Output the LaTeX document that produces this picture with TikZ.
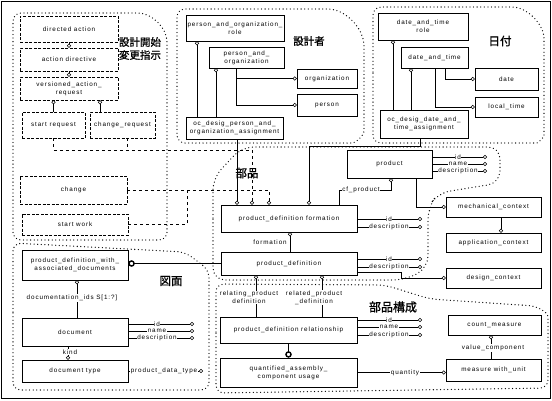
\documentclass[tikz,border=0pt]{standalone}
\usepackage{fontspec}
\setmainfont{Liberation Sans}[LetterSpace=14]
\newfontfamily\jp{Noto Sans CJK JP}[FakeBold=1]
\usetikzlibrary{arrows.meta}
\begin{document}
\begin{tikzpicture}[x=1pt,y=-1pt,
  font=\fontsize{6.3}{8}\selectfont,
  box/.style={draw,line width=0.6pt,inner sep=0pt,align=center},
  fbox/.style={box,dash pattern=on 3pt off 1.5pt},
  region/.style={line width=1.3pt,dash pattern=on 0pt off 3.6pt,line cap=round,rounded corners=8},
  ln/.style={line width=0.5pt},
  oe/.style={ln,-{Circle[open,length=4pt]}},
  th/.style={line width=1.4pt,-{Circle[open,length=6.5pt]}},
  lab/.style={fill=white,inner sep=0.6pt,align=center},
  jl/.style={font=\jp\fontsize{10.5}{12}\selectfont,inner sep=0pt}]
\useasboundingbox (0,0) rectangle (552,400);
\draw[line width=1.8pt] (1.5,1.5) rectangle (550.5,398.5);

% regions
\draw[region] (13,100) -- (13,13) -- (130,13) .. controls (152,13) and (167,28) .. (167,50) -- (167,240) -- (13,240) -- cycle;
\draw[region] (177,80) -- (177,9) -- (320,9) .. controls (345,9) and (364,28) .. (364,54) -- (364,123) .. controls (364,135) and (356,143) .. (344,143) -- (177,143) -- cycle;
\draw[region] (373,80) -- (373,7) -- (504,7) .. controls (527,7) and (544,24) .. (544,47) -- (544,128) .. controls (544,137) and (538,143) .. (529,143) -- (373,143) -- cycle;
\draw[region,rounded corners=12] (213,230) -- (213,178) -- (242,147) -- (500,147) -- (500,183) -- (438,193) -- (428,208) -- (428,268) -- (405,280) -- (213,280) -- cycle;
\draw[region] (13,320) -- (13,243) -- (185,252) -- (209,270) -- (209,390) -- (13,390) -- cycle;
\draw[region] (216,340) -- (216,284) -- (385,285) -- (430,299) -- (520,305) .. controls (537,306) and (548,312) .. (548,325) -- (548,388) -- (216,393) -- cycle;

\node[jl] (j1) at (140,42) {設計開始};
\node[jl] (j2) at (140,55) {変更指示};
\node[jl] (j3) at (309,41) {設計者};
\node[jl,font=\jp\fontsize{11.5}{12}\selectfont] (j4) at (500,41) {日付};
\node[jl,font=\jp\fontsize{11.5}{12}\selectfont] (j5) at (247,173) {部品};
\node[jl,font=\jp\fontsize{11.5}{12}\selectfont] (j6) at (171,281) {図面};
\node[jl,font=\jp\fontsize{12}{12}\selectfont] (j7) at (393,307) {部品構成};

% region 1 boxes
\node[fbox,minimum width=98,minimum height=26] (da) at (69,29) {directed action};
\node[fbox,minimum width=98,minimum height=23] (ad) at (69,59.5) {action directive};
\node[fbox,minimum width=98,minimum height=23] (var) at (69,88.5) {versioned\_action\_\\request};
\node[fbox,minimum width=63,minimum height=26] (sreq) at (53.5,125) {start request};
\node[fbox,minimum width=65,minimum height=26] (creq) at (122.5,125) {change\_request};
\node[fbox,minimum width=107,minimum height=28] (chg) at (73.5,190) {change};
\node[fbox,minimum width=106,minimum height=21] (sw) at (75,224.5) {start work};

% region 2 boxes
\node[box,minimum width=98,minimum height=26] (por) at (235,28) {person\_and\_organization\_\\role};
\node[box,minimum width=75,minimum height=21] (pao) at (246.5,57.5) {person\_and\_\\organization};
\node[box,minimum width=60,minimum height=19] (org) at (327,78.5) {organization};
\node[box,minimum width=60,minimum height=22] (per) at (327,105) {person};
\node[box,minimum width=97,minimum height=22] (ocp) at (234.5,128) {oc\_desig\_person\_and\_\\organization\_assignment};

% region 3 boxes
\node[box,minimum width=90,minimum height=27] (dtr) at (423,26.5) {date\_and\_time\\role};
\node[box,minimum width=67,minimum height=21] (dat) at (434.5,57.5) {date\_and\_time};
\node[box,minimum width=63,minimum height=22] (date) at (506.5,79) {date};
\node[box,minimum width=63,minimum height=20] (lt) at (506.5,107) {local\_time};
\node[box,minimum width=88,minimum height=28] (ocd) at (424,124) {oc\_desig\_date\_and\_\\time\_assignment};

% region 4 boxes
\node[box,minimum width=85,minimum height=28] (prod) at (389.5,164) {product};
\node[box,minimum width=136,minimum height=27] (pdf) at (289,218.5) {product\_definition formation};
\node[box,minimum width=136,minimum height=23] (pd) at (289,263.5) {product\_definition};
\node[box,minimum width=95,minimum height=20] (mc) at (493.5,207) {mechanical\_context};
\node[box,minimum width=95,minimum height=19] (ac) at (493.5,242.5) {application\_context};
\node[box,minimum width=95,minimum height=20] (dc) at (493.5,278) {design\_context};

% region 5 boxes
\node[box,minimum width=106,minimum height=30] (pdwad) at (75,265) {product\_definition\_with\_\\associated\_documents};
\node[box,minimum width=106,minimum height=28] (doc) at (75,332) {document};
\node[box,minimum width=106,minimum height=22] (dt) at (75,371) {document type};

% region 6 boxes
\node[box,minimum width=137,minimum height=26] (pdr) at (288.5,330) {product\_definition relationship};
\node[box,minimum width=137,minimum height=29] (qacu) at (288.5,372.5) {quantified\_assembly\_\\component usage};
\node[box,minimum width=93,minimum height=20] (cm) at (494.5,325) {count\_measure};
\node[box,minimum width=95,minimum height=22] (mwu) at (493.5,370) {measure with\_unit};

% region 1 connectors
\draw[oe] (da.south) -- (ad.north);
\draw[oe] (ad.south) -- (var.north);
\draw[oe] (sreq.north) -- (sreq.north |- var.south);
\draw[oe] (creq.north -| 100,0) -- (var.south -| 100,0);
\coordinate (b1) at (252,150);
\draw[oe,dashed] (sreq.south) -- (sreq.south |- b1) -- (b1) -- (b1 |- pdf.north);
\draw[ln,dashed] (creq.south -| 127,0) -- (127,150);
\draw[oe,dashed] (chg.east) -- (269,190) -- (pdf.north -| 269,0);
\draw[ln,dashed] (sw.east) -- (187,224.5) -- (187,190);

% region 2 connectors
\draw[oe] (ocp.north -| 197,0) -- (por.south -| 197,0);
\draw[oe] (ocp.north -| 216,0) -- (pao.south -| 216,0);
\draw[oe] (pao.south -| 236,0) -- (236,105) -- (per.west);
\draw[oe] (236,78.5) -- (org.west);
\draw[oe] (ocp.south -| 237,0) -- (pdf.north -| 237,0);

% region 3 connectors
\draw[oe] (ocd.north -| 393,0) -- (dtr.south -| 393,0);
\draw[oe] (ocd.north -| 411,0) -- (dat.south -| 411,0);
\draw[oe] (dat.south -| 445,0) -- (445,79) -- (date.west);
\draw[oe] (dat.south -| 435,0) -- (435,107) -- (lt.west);
\draw[oe] (ocd.south -| 420,0) -- (420,146) -- (309,146) -- (pdf.north -| 309,0);

% region 4 connectors
\draw[oe] (pdf.north -| 339,0) -- (339,190) -- (391,190) -- (prod.south -| 391,0);
\node[lab] (cfp) at (361,190) {cf\_product};
\draw[oe] (prod.south -| 416,0) -- (416,207) -- (mc.west);
\draw[oe] (mc.south -| 501,0) -- (ac.north -| 501,0);
\draw[oe] (pd.east |- 0,272) -- (401,272) -- (401,278) -- (dc.west);
\draw[oe] (pd.north -| 290,0) -- (pdf.south -| 290,0);
\node[lab] (lform) at (270,242) {formation};

\foreach \y/\t in {157/id,164/name,171/description}{
  \draw[oe] (prod.east |- 0,\y) -- (487,\y);
  \node[lab] (pa\y) at (458,\y) {\t};
}
\foreach \y/\t in {219/id,227/description}{
  \draw[oe] (pdf.east |- 0,\y) -- (422,\y);
  \node[lab] (pfa\y) at (389,\y) {\t};
}
\foreach \y/\t in {259/id,267/description}{
  \draw[oe] (pd.east |- 0,\y) -- (422,\y);
  \node[lab] (pda\y) at (389,\y) {\t};
}
\foreach \y/\t in {320/id,327/name,335/description}{
  \draw[oe] (pdr.east |- 0,\y) -- (422,\y);
  \node[lab] (pra\y) at (389,\y) {\t};
}
\foreach \y/\t in {324/id,331/name,338/description}{
  \draw[oe] (doc.east |- 0,\y) -- (194,\y);
  \node[lab] (da\y) at (157,\y) {\t};
}

% region 5 connectors
\draw[oe] (dt.east) -- (203,371);
\node[lab] (pdt) at (164,371) {product\_data\_type};
\draw[oe] (doc.north -| 77,0) -- (pdwad.south -| 77,0);
\node[lab] (ldoc) at (72,298) {documentation\_ids S[1:?]};
\draw[oe] (doc.south -| 68,0) -- (dt.north -| 68,0);
\node[lab] (kind) at (70,352) {kind};
\draw[th] (pd.west) -- (pdwad.east |- pd.west);

% region 6 connectors
\draw[oe] (pdr.north -| 256,0) -- (pd.south -| 256,0);
\node[lab] (lrel) at (249,297.5) {relating\_product\\definition};
\draw[oe] (pdr.north -| 322,0) -- (pd.south -| 322,0);
\node[lab] (lred) at (314,297.5) {related\_product\\\_definition};
\draw[th] (pdr.south) -- (qacu.north);
\draw[oe] (qacu.east) -- (qacu.east -| mwu.west);
\node[lab] (lq) at (405,372.5) {quantity};
\draw[oe] (mwu.north -| 491,0) -- (cm.south -| 491,0);
\node[lab] (lv) at (493,348) {value\_component};
\end{tikzpicture}
\end{document}
